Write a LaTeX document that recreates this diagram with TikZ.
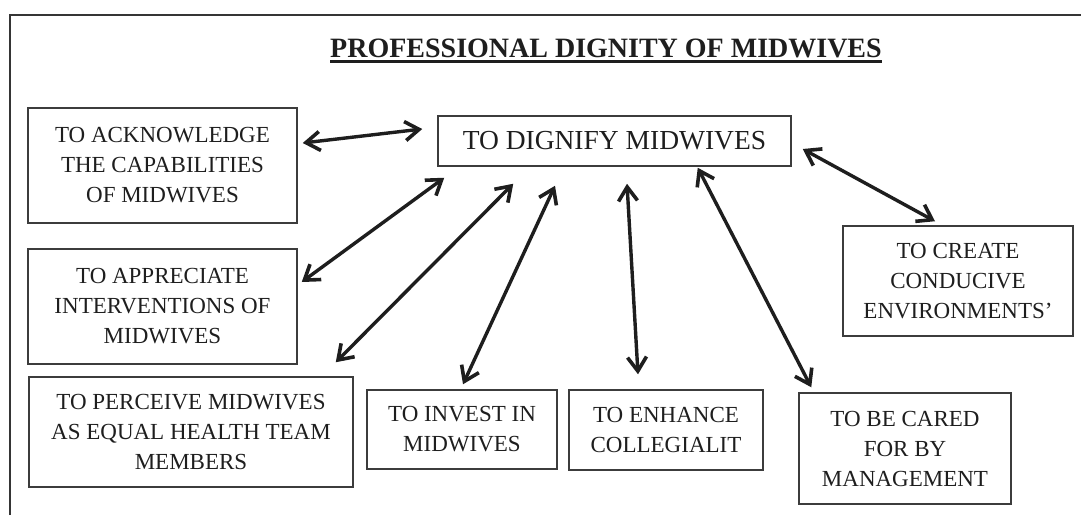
\documentclass[tikz,border=0pt]{standalone}
\usepackage{fontspec}
\setmainfont{Liberation Serif}
\usetikzlibrary{arrows.meta,calc}
\definecolor{ink}{HTML}{1E1E1E}
\definecolor{boxgrey}{HTML}{3C3C3C}
\begin{document}
\begin{tikzpicture}[x=1pt,y=-1pt,
  box/.style={draw=boxgrey,line width=1.5pt,inner sep=0pt,align=center,
    text=ink,font=\fontsize{23}{30}\selectfont},
  barb/.tip={Straight Barb[length=14pt,width=19pt,line width=3.6pt]},
  link/.style={draw=ink,line width=3.4pt,barb-barb}]
\useasboundingbox (0,0) rectangle (1081,515);

% page frame (top and left edges)
\draw[draw=ink!90,line width=2pt] (10,515) -- (10,14.5) -- (1081,14.5);

% heading
\node[inner sep=0pt,anchor=base,text=ink,font=\fontsize{28}{32}\selectfont\bfseries]
  (title) at (606,57) {PROFESSIONAL DIGNITY OF MIDWIVES};
\draw[draw=ink,line width=2.6pt] ($(title.base west)+(0,4.5)$) -- ($(title.base east)+(0,4.5)$);

% central box
\node[box,minimum width=353pt,minimum height=50pt,font=\fontsize{27.5}{32}\selectfont]
  (m) at (614.5,141) {TO DIGNIFY MIDWIVES};

% surrounding boxes
\node[box,minimum width=269pt,minimum height=115pt] (a) at (162.5,165.5)
  {TO ACKNOWLEDGE\\THE CAPABILITIES\\OF MIDWIVES};
\node[box,minimum width=269pt,minimum height=115pt] (b) at (162.5,306.5)
  {TO APPRECIATE\\INTERVENTIONS OF\\MIDWIVES};
\node[box,minimum width=324pt,minimum height=110pt] (c) at (191,432)
  {TO PERCEIVE MIDWIVES\\AS EQUAL HEALTH TEAM\\MEMBERS};
\node[box,minimum width=190pt,minimum height=79pt] (d) at (462,429.5)
  {TO INVEST IN\\MIDWIVES};
\node[box,minimum width=194pt,minimum height=80pt] (e) at (666,430)
  {TO ENHANCE\\COLLEGIALIT};
\node[box,minimum width=212pt,minimum height=111pt] (f) at (905,448.5)
  {TO BE CARED\\FOR BY\\MANAGEMENT};
\node[box,minimum width=230pt,minimum height=110pt] (g) at (958,281)
  {TO CREATE\\CONDUCIVE\\ENVIRONMENTS’};

% two-way arrows between the central box and each outer box
\draw[link] ($(a.east)+(5,-22.5)$) -- ($(m.west)+(-15,-12)$);
\draw[link] ($(b.east)+(4,-24.5)$) -- ($(m.south west)+(7,11)$);
\draw[link] ($(c.north east)+(-18,-14)$) -- ($(m.south west)+(76,17)$);
\draw[link] ($(d.north)+(1,-5)$) -- ($(m.south)+(-59.5,19)$);
\draw[link] ($(e.north)+(-28,-15)$) -- ($(m.south)+(12.5,17)$);
\draw[link] ($(f.north west)+(13,-5)$) -- ($(m.south east)+(-94,1)$);
\draw[link] ($(g.north)+(-23,-4)$) -- ($(m.east)+(11,8)$);
\end{tikzpicture}
\end{document}
